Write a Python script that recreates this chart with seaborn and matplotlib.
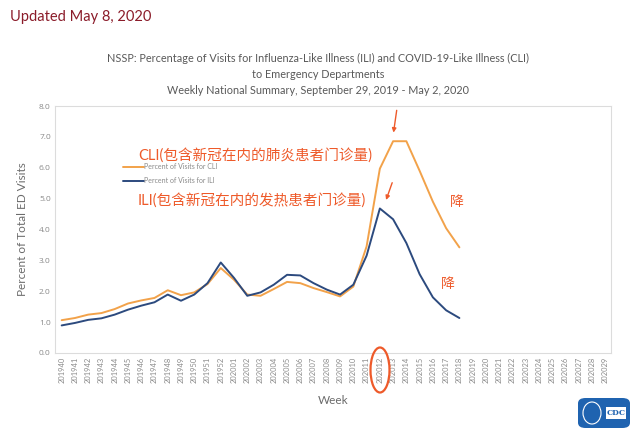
import numpy as np
import pandas as pd
import matplotlib.pyplot as plt
import seaborn as sns
from matplotlib.patches import Ellipse, FancyBboxPatch

### week labels on the x axis (season 2019-40 .. 2020-29)
weeks = ['2019%02d' % w for w in range(40, 53)] + ['2020%02d' % w for w in range(1, 30)]

### values (percent of ED visits), weeks 201940 .. 202018
cli = [1.06, 1.13, 1.24, 1.29, 1.42, 1.60, 1.70, 1.78, 2.03, 1.87, 1.96, 2.23, 2.75,
       2.37, 1.89, 1.85, 2.07, 2.30, 2.26, 2.10, 1.97, 1.83, 2.15, 3.45, 5.97, 6.86,
       6.86, 5.90, 4.90, 4.04, 3.42]
ili = [0.89, 0.97, 1.07, 1.12, 1.24, 1.40, 1.53, 1.64, 1.89, 1.69, 1.89, 2.26, 2.93,
       2.43, 1.85, 1.96, 2.21, 2.53, 2.51, 2.26, 2.05, 1.89, 2.21, 3.15, 4.68, 4.33,
       3.56, 2.55, 1.80, 1.38, 1.13]

yticks = [0.0, 1.0, 2.0, 3.0, 4.0, 5.0, 6.0, 7.0, 8.0]

ORANGE = '#F2A24A'
NAVY = '#2C4A7E'
RED = '#EE5A2A'
GREY = '#6b6b6b'

sns.set_style("white")
plt.rcParams['font.family'] = ['Lato', 'Noto Sans CJK SC', 'DejaVu Sans']

df = pd.DataFrame({
    'idx': list(range(len(cli))) * 2,
    'value': cli + ili,
    'series': ['Percent of Visits for CLI'] * len(cli) + ['Percent of Visits for ILI'] * len(ili),
})

fig = plt.figure(figsize=(6.4, 4.4), dpi=100)
ax = fig.add_axes([0.086, 0.198, 0.869, 0.561])

sns.lineplot(data=df, x='idx', y='value', hue='series',
             palette={'Percent of Visits for CLI': ORANGE, 'Percent of Visits for ILI': NAVY},
             linewidth=1.4, ax=ax)

ax.set_xlim(-0.5, 41.45)
ax.set_ylim(0, 8)
ax.set_xticks(range(len(weeks)))
ax.set_xticklabels(weeks, rotation=90, fontsize=5.4, color='#8a8a8a')
ax.set_yticks(yticks)
ax.set_yticklabels(['%.1f' % v for v in yticks], fontsize=6, color='#8a8a8a',
                   family='Open Sans')
ax.tick_params(axis='both', length=0, pad=3)
for s in ax.spines.values():
    s.set_color('#dcdcdc')
    s.set_linewidth(0.8)

ax.set_xlabel('Week', fontsize=8.5, color=GREY)
ax.xaxis.set_label_coords(0.5, -0.17)
ax.set_ylabel('Percent of Total ED Visits', fontsize=8.5, color=GREY, labelpad=8)

leg = ax.legend(loc='upper left', bbox_to_anchor=(0.117, 0.78), frameon=False,
                fontsize=5, handlelength=3.0, handletextpad=0.1, labelspacing=1.0,
                borderaxespad=0)
for t in leg.get_texts():
    t.set_color('#8a8a8a')

# annotations added on the screenshot
ax.text(0.149, 0.80, 'CLI(包含新冠在内的肺炎患者门诊量)', transform=ax.transAxes,
        fontsize=10.5, color=RED, va='center', ha='left')
ax.text(0.149, 0.62, 'ILI(包含新冠在内的发热患者门诊量)', transform=ax.transAxes,
        fontsize=10.5, color=RED, va='center', ha='left')
ax.annotate('', xy=(25.0, 7.05), xytext=(25.3, 7.95),
            arrowprops=dict(arrowstyle='-|>', color=RED, lw=1.0, mutation_scale=6))
ax.annotate('', xy=(24.4, 4.87), xytext=(25.0, 5.6),
            arrowprops=dict(arrowstyle='-|>', color=RED, lw=1.0, mutation_scale=6))
ax.text(29.8, 4.9, '降', fontsize=10, color=RED, ha='center', va='center')
ax.text(29.1, 2.25, '降', fontsize=10, color=RED, ha='center', va='center')

# circle around week 202012
fig.add_artist(Ellipse((380 / 640, 1 - 370 / 440), 19 / 640, 45 / 440,
                       transform=fig.transFigure, fill=False, edgecolor=RED, lw=1.6))

title_lines = ['NSSP: Percentage of Visits for Influenza-Like Illness (ILI) and COVID-19-Like Illness (CLI)',
               'to Emergency Departments',
               'Weekly National Summary, September 29, 2019 - May 2, 2020']
for i, line in enumerate(title_lines):
    fig.text(318 / 640, 1 - (58 + 16 * i) / 440, line, ha='center', va='center',
             fontsize=7.8, color='#595959')

fig.text(10 / 640, 1 - 17 / 440, 'Updated May 8, 2020', ha='left', va='center',
         fontsize=10.5, color='#8B1C2A')

# CDC badge
fig.add_artist(FancyBboxPatch((578 / 640, 1 - 428 / 440), 52 / 640, 30 / 440,
                              boxstyle='round,pad=0,rounding_size=0.012',
                              transform=fig.transFigure, facecolor='#1F63B0', edgecolor='none'))
fig.add_artist(FancyBboxPatch((606 / 640, 1 - 419 / 440), 20 / 640, 12 / 440,
                              boxstyle='square,pad=0', transform=fig.transFigure,
                              facecolor='white', edgecolor='none'))
fig.text(616 / 640, 1 - 413 / 440, 'CDC', ha='center', va='center', fontsize=5.5,
         color='#1F63B0', fontweight='bold', family='DejaVu Serif')
fig.add_artist(Ellipse((592 / 640, 1 - 413 / 440), 18 / 640, 22 / 440,
                       transform=fig.transFigure, fill=False, edgecolor='white', lw=0.8))

fig.savefig('out.png', dpi=100)
